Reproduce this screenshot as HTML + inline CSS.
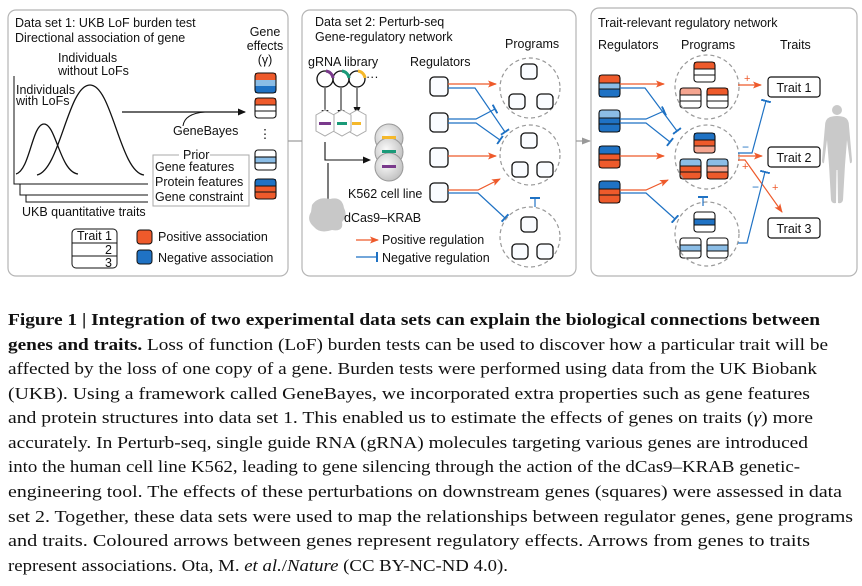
<!DOCTYPE html>
<html><head><meta charset="utf-8"><style>
html,body{margin:0;padding:0;background:#fff}
svg{display:block}
.s{font-family:"Liberation Sans",sans-serif;font-size:12.5px;fill:#111}
.c{font-family:"Liberation Serif",serif;font-size:17px;fill:#111}
</style></head><body>
<svg width="862" height="586" viewBox="0 0 862 586" xmlns="http://www.w3.org/2000/svg">
<defs>
<marker id="ab" markerWidth="8" markerHeight="8" refX="7" refY="4" orient="auto" markerUnits="userSpaceOnUse"><path d="M0,0.5 L8,4 L0,7.5 Z" fill="#111"/></marker>
<marker id="ao" markerWidth="9" markerHeight="8" refX="8" refY="4" orient="auto" markerUnits="userSpaceOnUse"><path d="M0,0.5 L9,4 L0,7.5 L2,4 Z" fill="#ee5a2b"/></marker>
<marker id="tb" markerWidth="2" markerHeight="10" refX="1" refY="5" orient="auto" markerUnits="userSpaceOnUse"><rect x="0" y="0" width="2" height="10" fill="#1f72c4"/></marker>
<marker id="ag" markerWidth="9" markerHeight="8" refX="8" refY="4" orient="auto" markerUnits="userSpaceOnUse"><path d="M0,0.5 L9,4 L0,7.5 Z" fill="#999"/></marker>
<radialGradient id="cell" cx="0.4" cy="0.4" r="0.7"><stop offset="0" stop-color="#fafafa"/><stop offset="1" stop-color="#bbb"/></radialGradient>
</defs>

<!-- panels -->
<rect x="8" y="10" width="280" height="266" rx="8" fill="none" stroke="#b5b5b5" stroke-width="1.2"/>
<rect x="302" y="10" width="274" height="266" rx="8" fill="none" stroke="#b5b5b5" stroke-width="1.2"/>
<rect x="591" y="8" width="266" height="268" rx="8" fill="none" stroke="#b5b5b5" stroke-width="1.2"/>
<line x1="288" y1="141" x2="302" y2="141" stroke="#999" stroke-width="1.2"/>
<line x1="576" y1="141" x2="590" y2="141" stroke="#999" stroke-width="1.2" marker-end="url(#ag)"/>

<!-- PANEL 1 -->
<text class="s" x="15" y="27">Data set 1: UKB LoF burden test</text>
<text class="s" x="15" y="42">Directional association of gene</text>
<text class="s" x="265" y="36" text-anchor="middle">Gene</text>
<text class="s" x="265" y="50" text-anchor="middle">effects</text>
<text class="s" x="265" y="64" text-anchor="middle">(γ)</text>
<text class="s" x="58" y="62">Individuals</text>
<text class="s" x="58" y="75">without LoFs</text>
<text class="s" x="16" y="94">Individuals</text>
<text class="s" x="16" y="105">with LoFs</text>
<path d="M14,76 V184 H148" fill="none" stroke="#111" stroke-width="1"/>
<path d="M20,184 V195 H148" fill="none" stroke="#111" stroke-width="1"/>
<path d="M26,195 V202 H148" fill="none" stroke="#111" stroke-width="1"/>
<path d="M16,174 C30,170 32,124 44,124 C56,124 60,172 78,174" fill="none" stroke="#111" stroke-width="1.3"/>
<path d="M37,175 C60,170 68,85 90,85 C112,85 120,172 144,175" fill="none" stroke="#111" stroke-width="1.3"/>
<line x1="122" y1="112" x2="245" y2="112" stroke="#111" stroke-width="1.2" marker-end="url(#ab)"/>
<path d="M183,126 C184,117 192,113 205,112" fill="none" stroke="#111" stroke-width="1"/>
<text class="s" x="173" y="135">GeneBayes</text>
<path d="M179,155 H153 V206 H249 V155 H210" fill="none" stroke="#aaa" stroke-width="1"/>
<text class="s" x="183" y="159">Prior</text>
<text class="s" x="155" y="171">Gene features</text>
<text class="s" x="155" y="186">Protein features</text>
<text class="s" x="155" y="201">Gene constraint</text>
<text class="s" x="22" y="216">UKB quantitative traits</text>
<rect x="72" y="229" width="45" height="39" rx="4" fill="#fff" stroke="#111" stroke-width="1"/>
<line x1="72" y1="243" x2="117" y2="243" stroke="#111"/>
<line x1="72" y1="256" x2="117" y2="256" stroke="#111"/>
<text class="s" x="77" y="240">Trait 1</text>
<text class="s" x="112" y="254" text-anchor="end">2</text>
<text class="s" x="112" y="267" text-anchor="end">3</text>
<rect x="137" y="230" width="15" height="14" rx="3" fill="#ee5a2b" stroke="#111"/>
<rect x="137" y="250" width="15" height="14" rx="3" fill="#1f72c4" stroke="#111"/>
<text class="s" x="158" y="241">Positive association</text>
<text class="s" x="158" y="262">Negative association</text>
<g stroke="#111" stroke-width="1.1">
<g transform="translate(255,73)"><rect width="21" height="7" fill="#ee5a2b" stroke="none"/><rect y="7" width="21" height="6" fill="#8bbde6" stroke="none"/><rect y="13" width="21" height="7" fill="#1f72c4" stroke="none"/><rect width="21" height="20" rx="3" fill="none"/></g>
<g transform="translate(255,98)"><rect width="21" height="7" fill="#ee5a2b" stroke="none"/><line x1="0" y1="7" x2="21" y2="7"/><line x1="0" y1="13" x2="21" y2="13"/><rect width="21" height="20" rx="3" fill="none"/></g>
<g transform="translate(255,150)"><rect y="7" width="21" height="6" fill="#8bbde6"/><rect width="21" height="20" rx="3" fill="none"/></g>
<g transform="translate(255,179)"><rect width="21" height="7" fill="#1f72c4" stroke="none"/><rect y="7" width="21" height="13" fill="#ee5a2b" stroke="none"/><line x1="0" y1="7" x2="21" y2="7"/><line x1="0" y1="13" x2="21" y2="13"/><rect width="21" height="20" rx="3" fill="none"/></g>
</g>
<text class="s" x="265" y="138" text-anchor="middle">⋮</text>

<!-- PANEL 2 -->
<text class="s" x="315" y="26">Data set 2: Perturb-seq</text>
<text class="s" x="315" y="41">Gene-regulatory network</text>
<text class="s" x="308" y="66">gRNA library</text>
<g fill="none" stroke="#111" stroke-width="1.3">
<circle cx="325" cy="79" r="8"/><circle cx="341" cy="79" r="8"/><circle cx="357" cy="79" r="8"/>
</g>
<path d="M326,71 A8,8 0 0 1 333,78" fill="none" stroke="#7a3a8c" stroke-width="3"/>
<path d="M342,71 A8,8 0 0 1 349,78" fill="none" stroke="#1a9a78" stroke-width="3"/>
<path d="M358,71 A8,8 0 0 1 365,78" fill="none" stroke="#f5b82a" stroke-width="3"/>
<text class="s" x="366" y="81">···</text>
<g stroke="#111" stroke-width="1" marker-end="url(#ab)">
<line x1="325" y1="88" x2="325" y2="117"/><line x1="341" y1="88" x2="341" y2="117"/><line x1="357" y1="88" x2="357" y2="114"/>
</g>
<g fill="#fff" stroke="#aaa" stroke-width="1">
<polygon points="357,110 366,115 366,131 357,136 348,131 348,115"/>
<polygon points="342,110 351,115 351,131 342,136 333,131 333,115"/>
<polygon points="325,110 334,115 334,131 325,136 316,131 316,115"/>
</g>
<rect x="319" y="122" width="12" height="3" fill="#7a3a8c"/>
<rect x="337" y="122" width="10" height="3" fill="#1a9a78"/>
<rect x="352" y="122" width="9" height="3" fill="#f5b82a"/>
<path d="M325,142 V160 H370" fill="none" stroke="#111" stroke-width="1.1" marker-end="url(#ab)"/>
<line x1="328" y1="163" x2="328" y2="200" stroke="#111" stroke-width="1.1"/>
<path d="M312,205 Q318,196 330,199 Q342,196 344,208 Q348,216 342,222 Q344,232 332,230 Q320,234 314,227 Q306,220 311,212 Z" fill="#c8c8c8"/>
<text class="s" x="344" y="222">dCas9–KRAB</text>
<g stroke="#999" stroke-width="1" fill="url(#cell)">
<circle cx="389" cy="138" r="14"/><circle cx="389" cy="152" r="14"/><circle cx="389" cy="167" r="14"/>
</g>
<rect x="382" y="136" width="14" height="3" fill="#f5b82a"/>
<rect x="382" y="150" width="14" height="3" fill="#1a9a78"/>
<rect x="382" y="165" width="14" height="3" fill="#7a3a8c"/>
<text class="s" x="348" y="198">K562 cell line</text>
<text class="s" x="410" y="66">Regulators</text>
<text class="s" x="505" y="48">Programs</text>
<g fill="#fafcff" stroke="#111" stroke-width="1.3">
<rect x="430" y="77" width="18" height="19" rx="4"/><rect x="430" y="113" width="18" height="19" rx="4"/>
<rect x="430" y="148" width="18" height="19" rx="4"/><rect x="430" y="183" width="18" height="19" rx="4"/>
</g>
<g fill="none" stroke="#999" stroke-width="1.2" stroke-dasharray="4,3">
<circle cx="530" cy="88" r="30"/><circle cx="530" cy="155" r="30"/><circle cx="530" cy="237" r="30"/>
</g>
<g fill="#fafcff" stroke="#111" stroke-width="1.3">
<rect x="534" y="64" width="16" height="15" rx="4" transform="translate(-13,0)"/><rect x="509" y="94" width="16" height="15" rx="4"/><rect x="537" y="94" width="16" height="15" rx="4"/>
<rect x="521" y="133" width="16" height="15" rx="4"/><rect x="512" y="162" width="16" height="15" rx="4"/><rect x="537" y="162" width="16" height="15" rx="4"/>
<rect x="525" y="217" width="16" height="15" rx="4" transform="translate(-4,0)"/><rect x="512" y="244" width="16" height="15" rx="4"/><rect x="537" y="244" width="16" height="15" rx="4"/>
</g>
<g fill="none" stroke-width="1.2">
<path d="M448,84 H496" stroke="#ee5a2b" marker-end="url(#ao)"/>
<path d="M448,88 H475 L505,132" stroke="#1f72c4" marker-end="url(#tb)"/>
<path d="M448,119 H476 L495,109" stroke="#1f72c4" marker-end="url(#tb)"/>
<path d="M448,123 H476 L500,140" stroke="#1f72c4" marker-end="url(#tb)"/>
<path d="M448,156 H496" stroke="#ee5a2b" marker-end="url(#ao)"/>
<path d="M448,190 H478 L500,179" stroke="#ee5a2b" marker-end="url(#ao)"/>
<path d="M448,193 H478 L505,218" stroke="#1f72c4" marker-end="url(#tb)"/>
<path d="M535,207 V198" stroke="#1f72c4" marker-end="url(#tb)"/>
<path d="M356,240 H378" stroke="#ee5a2b" marker-end="url(#ao)"/>
<path d="M356,257 H377" stroke="#1f72c4" marker-end="url(#tb)"/>
</g>
<text class="s" x="382" y="244">Positive regulation</text>
<text class="s" x="382" y="262">Negative regulation</text>

<!-- PANEL 3 -->
<text class="s" x="598" y="27">Trait-relevant regulatory network</text>
<text class="s" x="598" y="49">Regulators</text>
<text class="s" x="681" y="49">Programs</text>
<text class="s" x="780" y="49">Traits</text>
<g stroke="#111" stroke-width="1.1">
<!-- regulators -->
<g transform="translate(599,75)"><rect width="21" height="8" fill="#ee5a2b" stroke="none"/><rect y="8" width="21" height="6" fill="#8bbde6" stroke="none"/><rect y="14" width="21" height="8" fill="#1f72c4" stroke="none"/><line x1="0" y1="8" x2="21" y2="8"/><line x1="0" y1="14" x2="21" y2="14"/><rect width="21" height="22" rx="3" fill="none"/></g>
<g transform="translate(599,110)"><rect width="21" height="8" fill="#8bbde6" stroke="none"/><rect y="8" width="21" height="14" fill="#1f72c4" stroke="none"/><line x1="0" y1="8" x2="21" y2="8"/><line x1="0" y1="14" x2="21" y2="14"/><rect width="21" height="22" rx="3" fill="none"/></g>
<g transform="translate(599,146)"><rect width="21" height="8" fill="#1f72c4" stroke="none"/><rect y="8" width="21" height="14" fill="#ee5a2b" stroke="none"/><line x1="0" y1="8" x2="21" y2="8"/><line x1="0" y1="14" x2="21" y2="14"/><rect width="21" height="22" rx="3" fill="none"/></g>
<g transform="translate(599,181)"><rect width="21" height="8" fill="#1f72c4" stroke="none"/><rect y="8" width="21" height="14" fill="#ee5a2b" stroke="none"/><line x1="0" y1="8" x2="21" y2="8"/><line x1="0" y1="14" x2="21" y2="14"/><rect width="21" height="22" rx="3" fill="none"/></g>
<!-- program genes -->
<g transform="translate(694,62)"><rect width="21" height="7" fill="#ee5a2b" stroke="none"/><line x1="0" y1="7" x2="21" y2="7"/><line x1="0" y1="13" x2="21" y2="13"/><rect width="21" height="20" rx="3" fill="none"/></g>
<g transform="translate(680,88)"><rect width="21" height="7" fill="#f5a590" stroke="none"/><line x1="0" y1="7" x2="21" y2="7"/><line x1="0" y1="13" x2="21" y2="13"/><rect width="21" height="20" rx="3" fill="none"/></g>
<g transform="translate(707,88)"><rect width="21" height="7" fill="#ee5a2b" stroke="none"/><line x1="0" y1="7" x2="21" y2="7"/><line x1="0" y1="13" x2="21" y2="13"/><rect width="21" height="20" rx="3" fill="none"/></g>
<g transform="translate(694,133)"><rect width="21" height="7" fill="#1f72c4" stroke="none"/><rect y="7" width="21" height="6" fill="#ee5a2b" stroke="none"/><rect y="13" width="21" height="7" fill="#f5a590" stroke="none"/><line x1="0" y1="7" x2="21" y2="7"/><line x1="0" y1="13" x2="21" y2="13"/><rect width="21" height="20" rx="3" fill="none"/></g>
<g transform="translate(680,159)"><rect width="21" height="7" fill="#8bbde6" stroke="none"/><rect y="7" width="21" height="13" fill="#ee5a2b" stroke="none"/><line x1="0" y1="7" x2="21" y2="7"/><line x1="0" y1="13" x2="21" y2="13"/><rect width="21" height="20" rx="3" fill="none"/></g>
<g transform="translate(707,159)"><rect width="21" height="7" fill="#8bbde6" stroke="none"/><rect y="7" width="21" height="6" fill="#f5a590" stroke="none"/><rect y="13" width="21" height="7" fill="#ee5a2b" stroke="none"/><line x1="0" y1="7" x2="21" y2="7"/><line x1="0" y1="13" x2="21" y2="13"/><rect width="21" height="20" rx="3" fill="none"/></g>
<g transform="translate(694,212)"><rect y="7" width="21" height="6" fill="#1f72c4" stroke="none"/><line x1="0" y1="7" x2="21" y2="7"/><line x1="0" y1="13" x2="21" y2="13"/><rect width="21" height="20" rx="3" fill="none"/></g>
<g transform="translate(680,238)"><rect y="7" width="21" height="6" fill="#8bbde6" stroke="none"/><line x1="0" y1="7" x2="21" y2="7"/><line x1="0" y1="13" x2="21" y2="13"/><rect width="21" height="20" rx="3" fill="none"/></g>
<g transform="translate(707,238)"><rect y="7" width="21" height="6" fill="#8bbde6" stroke="none"/><line x1="0" y1="7" x2="21" y2="7"/><line x1="0" y1="13" x2="21" y2="13"/><rect width="21" height="20" rx="3" fill="none"/></g>
</g>
<g fill="none" stroke="#999" stroke-width="1.2" stroke-dasharray="4,3">
<circle cx="707" cy="87" r="32"/><circle cx="707" cy="157" r="32"/><circle cx="707" cy="234" r="32"/>
</g>
<g fill="#fff" stroke="#111" stroke-width="1.2">
<rect x="768" y="77" width="52" height="20" rx="3"/><rect x="768" y="147" width="52" height="20" rx="3"/><rect x="768" y="218" width="52" height="20" rx="3"/>
</g>
<text class="s" x="794" y="92" text-anchor="middle" font-size="13">Trait 1</text>
<text class="s" x="794" y="162" text-anchor="middle" font-size="13">Trait 2</text>
<text class="s" x="794" y="233" text-anchor="middle" font-size="13">Trait 3</text>
<g fill="none" stroke-width="1.2">
<path d="M620,84 H664" stroke="#ee5a2b" marker-end="url(#ao)"/>
<path d="M620,88 H645 L677,131" stroke="#1f72c4" marker-end="url(#tb)"/>
<path d="M620,119 H646 L664,111" stroke="#1f72c4" marker-end="url(#tb)"/>
<path d="M620,123 H646 L670,142" stroke="#1f72c4" marker-end="url(#tb)"/>
<path d="M620,156 H664" stroke="#ee5a2b" marker-end="url(#ao)"/>
<path d="M620,190 H646 L668,180" stroke="#ee5a2b" marker-end="url(#ao)"/>
<path d="M620,193 H646 L675,219" stroke="#1f72c4" marker-end="url(#tb)"/>
<path d="M703,206 V197" stroke="#1f72c4" marker-end="url(#tb)"/>
<path d="M738,85 H761" stroke="#ee5a2b" marker-end="url(#ao)"/>
<path d="M738,153 H752 L766,101" stroke="#1f72c4" marker-end="url(#tb)"/>
<path d="M738,156 H762" stroke="#ee5a2b" marker-end="url(#ao)"/>
<path d="M738,160 H745 L782,212" stroke="#ee5a2b" marker-end="url(#ao)"/>
<path d="M738,243 H747 L765,172" stroke="#1f72c4" marker-end="url(#tb)"/>
</g>
<text x="744" y="82" font-family="Liberation Sans" font-size="11" fill="#ee5a2b">+</text>
<text x="742" y="170" font-family="Liberation Sans" font-size="11" fill="#ee5a2b">+</text>
<text x="772" y="191" font-family="Liberation Sans" font-size="11" fill="#ee5a2b">+</text>
<text x="742" y="151" font-family="Liberation Sans" font-size="12" fill="#1f72c4">−</text>
<text x="752" y="191" font-family="Liberation Sans" font-size="12" fill="#1f72c4">−</text>
<g fill="#c9c9c9">
<circle cx="837" cy="110" r="5"/>
<path d="M830,117 Q837,115 844,117 Q849,119 849,126 L852,160 Q852,164 850,163 L847,140 L845,165 L843,200 Q842,204 838,203 L837.5,170 L836.5,170 L836,203 Q832,204 831,200 L829,165 L827,140 L824,163 Q822,164 822,160 L825,126 Q825,119 830,117 Z"/>
</g>

<!-- CAPTION -->
<g class="c">
<text x="8" y="325" textLength="812" lengthAdjust="spacingAndGlyphs"><tspan font-weight="bold">Figure 1 | Integration of two experimental data sets can explain the biological connections between</tspan></text>
<text x="8" y="350" textLength="820" lengthAdjust="spacingAndGlyphs"><tspan font-weight="bold">genes and traits.</tspan>   Loss of function (LoF) burden tests can be used to discover how a particular trait will be</text>
<text x="8" y="374" textLength="809" lengthAdjust="spacingAndGlyphs">affected by the loss of one copy of a gene. Burden tests were performed using data from the UK Biobank</text>
<text x="8" y="399" textLength="802" lengthAdjust="spacingAndGlyphs">(UKB). Using a framework called GeneBayes, we incorporated extra properties such as gene features</text>
<text x="8" y="423" textLength="805" lengthAdjust="spacingAndGlyphs">and protein structures into data set 1. This enabled us to estimate the effects of genes on traits (<tspan font-style="italic">γ</tspan>) more</text>
<text x="8" y="448" textLength="800" lengthAdjust="spacingAndGlyphs">accurately. In Perturb-seq, single guide RNA (gRNA) molecules targeting various genes are introduced</text>
<text x="8" y="472" textLength="792" lengthAdjust="spacingAndGlyphs">into the human cell line K562, leading to gene silencing through the action of the dCas9–KRAB genetic-</text>
<text x="8" y="497" textLength="834" lengthAdjust="spacingAndGlyphs">engineering tool. The effects of these perturbations on downstream genes (squares) were assessed in data</text>
<text x="8" y="522" textLength="845" lengthAdjust="spacingAndGlyphs">set 2. Together, these data sets were used to map the relationships between regulator genes, gene programs</text>
<text x="8" y="546" textLength="802" lengthAdjust="spacingAndGlyphs">and traits. Coloured arrows between genes represent regulatory effects. Arrows from genes to traits</text>
<text x="8" y="571" textLength="500" lengthAdjust="spacingAndGlyphs">represent associations. Ota, M. <tspan font-style="italic">et al.</tspan>/<tspan font-style="italic">Nature</tspan> (CC BY-NC-ND 4.0).</text>
</g>
</svg>
</body></html>
